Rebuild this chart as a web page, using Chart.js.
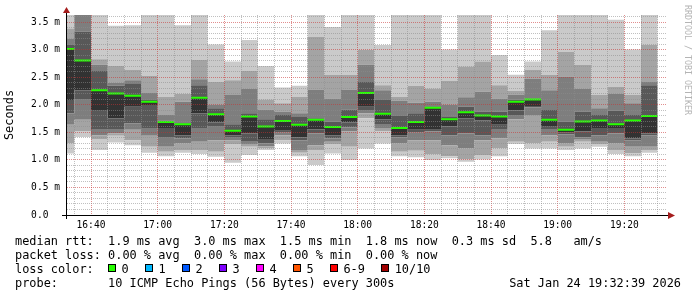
<!DOCTYPE html>
<html>
<head>
<meta charset="utf-8">
<script src="https://cdn.jsdelivr.net/npm/chart.js@4.4.1/dist/chart.umd.min.js"></script>
<style>
  html, body { margin: 0; padding: 0; background: #fff; }
  #wrap { position: relative; width: 697px; height: 297px; overflow: hidden; }
  #chart { position: absolute; left: 0; top: 0; }
  .txt { position: absolute; font-family: 'DejaVu Sans Mono', monospace; font-size: 11.9px; line-height: 13.9px; white-space: pre; color: #000; }
  #watermark { position: absolute; left: 683px; top: 5px; writing-mode: vertical-rl; font-family: 'DejaVu Sans Mono', monospace; font-size: 8.3px; line-height: 10px; color: #b4b4b4; white-space: pre; }
  .sw { display: inline-block; width: 6px; height: 6px; border: 1px solid #000; margin-right: 5.5px; vertical-align: 1px; }
  .lab { margin-right: 16.3px; }
</style>
</head>
<body>
<div id="wrap">
  <canvas id="chart" width="697" height="297"></canvas>
  <div id="watermark">RRDTOOL / TOBI OETIKER</div>
  <div class="txt" style="left:15px;top:235px">median rtt:  1.9 ms avg  3.0 ms max  1.5 ms min  1.8 ms now  0.3 ms sd  5.8   am/s</div>
  <div class="txt" style="left:15px;top:248.9px">packet loss: 0.00 % avg  0.00 % max  0.00 % min  0.00 % now</div>
  <div class="txt" id="loss-row" style="left:15px;top:262.8px">loss color:  </div>
  <div class="txt" style="left:15px;top:276.7px">probe:       10 ICMP Echo Pings (56 Bytes) every 300s</div>
  <div class="txt" style="right:16px;top:276.7px">Sat Jan 24 19:32:39 2026</div>
</div>
<script>
// start of each 5 minute slot
const slots = ['16:30', '16:35', '16:40', '16:45', '16:50', '16:55',
  '17:00', '17:05', '17:10', '17:15', '17:20', '17:25', '17:30', '17:35', '17:40', '17:45', '17:50', '17:55',
  '18:00', '18:05', '18:10', '18:15', '18:20', '18:25', '18:30', '18:35', '18:40', '18:45', '18:50', '18:55',
  '19:00', '19:05', '19:10', '19:15', '19:20', '19:25'];
const slotLength = 5;
const viewStart = '16:32:30';
const viewEnd = '19:32:48';

// the 10 pings of each slot, sorted (ms)
const ping1 = [1.12, 1.42, 1.18, 1.32, 1.27, 1.13, 1.07, 1.13, 1.11, 1.06, 0.95, 1.09, 1.18, 1.30, 1.07, 0.91, 1.12, 1.00, 1.21, 1.30, 1.07, 1.05, 1.00, 1.03, 0.97, 1.01, 1.07, 1.29, 1.21, 1.21, 1.18, 1.21, 1.24, 1.11, 1.07, 1.13];
const ping2 = [1.30, 1.52, 1.38, 1.44, 1.36, 1.24, 1.15, 1.18, 1.18, 1.15, 1.29, 1.24, 1.21, 1.36, 1.13, 1.18, 1.29, 1.24, 1.76, 1.52, 1.15, 1.17, 1.11, 1.07, 1.01, 1.09, 1.21, 1.33, 1.30, 1.33, 1.24, 1.33, 1.29, 1.18, 1.12, 1.18];
const ping3 = [1.64, 1.73, 1.45, 1.48, 1.55, 1.44, 1.24, 1.30, 1.33, 1.36, 1.36, 1.29, 1.25, 1.45, 1.18, 1.27, 1.33, 1.52, 1.85, 1.58, 1.30, 1.36, 1.36, 1.27, 1.21, 1.36, 1.39, 1.74, 1.82, 1.45, 1.30, 1.38, 1.33, 1.30, 1.24, 1.24];
const ping4 = [1.85, 2.11, 1.55, 1.55, 1.67, 1.58, 1.42, 1.39, 1.58, 1.62, 1.42, 1.33, 1.30, 1.50, 1.36, 1.48, 1.39, 1.59, 1.91, 1.64, 1.41, 1.50, 1.52, 1.45, 1.48, 1.45, 1.55, 1.82, 1.96, 1.55, 1.47, 1.41, 1.45, 1.48, 1.36, 1.45];
const ping5 = [2.09, 2.27, 1.91, 1.76, 1.97, 2.00, 1.58, 1.45, 1.85, 1.68, 1.45, 1.48, 1.38, 1.53, 1.41, 1.56, 1.45, 1.68, 1.97, 1.74, 1.45, 1.55, 1.55, 1.61, 1.76, 1.72, 1.64, 1.90, 1.98, 1.62, 1.50, 1.52, 1.58, 1.58, 1.39, 1.48];
const ping6 = [3.03, 2.82, 2.27, 2.21, 2.17, 2.06, 1.69, 1.65, 2.13, 1.83, 1.53, 1.79, 1.61, 1.71, 1.64, 1.73, 1.60, 1.78, 2.22, 1.84, 1.58, 1.69, 1.95, 1.74, 1.87, 1.81, 1.79, 2.06, 2.10, 1.73, 1.55, 1.71, 1.72, 1.66, 1.72, 1.80];
const ping7 = [3.09, 3.33, 2.62, 2.35, 2.38, 2.09, 1.72, 1.67, 2.36, 1.94, 1.65, 1.85, 1.74, 1.82, 1.78, 1.76, 1.70, 1.92, 2.42, 2.09, 1.80, 1.85, 1.96, 1.78, 1.97, 1.88, 1.88, 2.10, 2.12, 1.91, 1.70, 1.88, 1.82, 1.90, 1.82, 2.36];
const ping8 = [3.20, 3.70, 2.73, 2.41, 2.45, 2.22, 1.82, 2.06, 2.47, 2.00, 2.18, 2.30, 1.92, 1.88, 1.85, 2.28, 2.12, 2.28, 2.73, 2.27, 2.08, 2.04, 2.06, 2.00, 2.14, 2.24, 2.12, 2.19, 2.48, 2.27, 2.52, 2.30, 1.94, 2.21, 2.03, 2.42];
const ping9 = [3.39, 3.80, 2.83, 2.71, 2.64, 2.53, 2.15, 2.20, 2.82, 2.42, 2.45, 2.62, 2.10, 2.03, 2.15, 3.24, 2.55, 2.55, 3.00, 2.36, 2.15, 2.35, 2.30, 2.44, 2.70, 2.79, 2.36, 2.26, 2.64, 2.55, 2.97, 2.73, 2.18, 2.33, 2.18, 3.09];
const ping10 = [3.70, 3.90, 3.80, 3.44, 3.45, 3.80, 3.80, 3.45, 3.80, 3.10, 2.79, 3.18, 2.71, 2.32, 2.35, 3.80, 3.42, 3.80, 3.80, 3.09, 3.80, 3.80, 3.80, 3.01, 3.80, 3.80, 2.91, 2.55, 2.79, 3.36, 3.80, 3.80, 3.80, 3.55, 3.01, 3.80];
const medianRtt = [3.02, 2.81, 2.27, 2.21, 2.17, 2.06, 1.69, 1.65, 2.13, 1.83, 1.53, 1.79, 1.61, 1.71, 1.64, 1.73, 1.60, 1.78, 2.22, 1.84, 1.58, 1.69, 1.95, 1.74, 1.87, 1.81, 1.79, 2.06, 2.10, 1.73, 1.55, 1.70, 1.72, 1.65, 1.72, 1.80];

const timeTicks = ['16:40', '17:00', '17:20', '17:40', '18:00', '18:20', '18:40', '19:00', '19:20'];
const yTickValues = [0, 0.5, 1.0, 1.5, 2.0, 2.5, 3.0, 3.5];
const yTickLabels = ['0.0', '0.5 m', '1.0 m', '1.5 m', '2.0 m', '2.5 m', '3.0 m', '3.5 m'];
const yMax = 3.636;

const lossNames = ['0', '1', '2', '3', '4', '5', '6-9', '10/10'];
const lossColors = ['#26ff00', '#00b8ff', '#0059ff', '#7e00ff', '#ff00ff', '#ff5500', '#ff0000', '#a10000'];

// smoke shades, outer bands light, middle band dark
const bandColors = ['#cacaca', '#a4a4a4', '#7e7e7e', '#585858', '#323232', '#585858', '#7e7e7e', '#a4a4a4', '#cacaca'];

function toMin(t) {
    const p = t.split(':').map(Number);
    return p[0] * 60 + p[1] + (p[2] || 0) / 60;
}

// loss colour legend
const lossRow = document.getElementById('loss-row');
lossNames.forEach((name, i) => {
    const sw = document.createElement('span');
    sw.className = 'sw';
    sw.style.background = lossColors[i];
    const lab = document.createElement('span');
    lab.className = 'lab';
    lab.textContent = name;
    lossRow.appendChild(sw);
    lossRow.appendChild(lab);
});

// each value holds from its slot start to the next slot start
const lastEnd = toMin(slots[slots.length - 1]) + slotLength;
function toPoints(vals) {
    const pts = slots.map((t, i) => ({ x: toMin(t), y: vals[i] }));
    pts.push({ x: lastEnd, y: vals[vals.length - 1] });
    return pts;
}

const pings = [ping1, ping2, ping3, ping4, ping5, ping6, ping7, ping8, ping9, ping10];
const datasets = pings.map((vals, i) => ({
    data: toPoints(vals),
    stepped: 'before',
    borderWidth: 0,
    pointRadius: 0,
    order: 1,
    backgroundColor: i ? bandColors[i - 1] : 'transparent',
    fill: i ? '-1' : false
}));

// median drawn as a thin bar, about 2px high, on top of the smoke
const medHalf = 1 / 55;
datasets.push({
    data: toPoints(medianRtt.map(v => v - medHalf)),
    stepped: 'before', borderWidth: 0, pointRadius: 0, fill: false, order: 0
});
datasets.push({
    data: toPoints(medianRtt.map(v => v + medHalf)),
    stepped: 'before', borderWidth: 0, pointRadius: 0, fill: '-1', order: 0,
    backgroundColor: lossColors[0]
});

const minorGrid = 'rgba(140,140,140,0.55)';
const majorGrid = 'rgba(200,50,50,0.55)';
const tickFont = { family: 'DejaVu Sans Mono', size: 9.6 };

// axis stubs and red arrows like rrdtool
const axisArrows = {
    id: 'axisArrows',
    afterDraw(chart) {
        const { ctx, chartArea: a } = chart;
        const ax = a.left + 0.5;
        const ay = a.bottom + 0.5;
        ctx.save();
        ctx.strokeStyle = '#000';
        ctx.lineWidth = 1;
        ctx.beginPath();
        ctx.moveTo(a.left - 4, ay); ctx.lineTo(a.right + 3, ay);
        ctx.moveTo(ax, a.bottom + 4); ctx.lineTo(ax, a.top - 3);
        ctx.stroke();
        ctx.fillStyle = '#a51d1d';
        ctx.beginPath();
        ctx.moveTo(a.right + 1, ay - 3.5);
        ctx.lineTo(a.right + 8, ay);
        ctx.lineTo(a.right + 1, ay + 3.5);
        ctx.closePath();
        ctx.fill();
        ctx.beginPath();
        ctx.moveTo(ax - 3.5, a.top - 2);
        ctx.lineTo(ax, a.top - 8);
        ctx.lineTo(ax + 3.5, a.top - 2);
        ctx.closePath();
        ctx.fill();
        ctx.restore();
    }
};

new Chart(document.getElementById('chart'), {
    type: 'line',
    data: { datasets },
    options: {
        responsive: false,
        animation: false,
        devicePixelRatio: 1,
        layout: { padding: { top: 15, right: 30, left: 0, bottom: 0 } },
        plugins: { legend: { display: false }, tooltip: { enabled: false } },
        scales: {
            x: {
                type: 'linear',
                min: toMin(viewStart),
                max: toMin(viewEnd),
                afterFit: s => { s.height = 82; },
                ticks: {
                    stepSize: 5,
                    autoSkip: false,
                    maxRotation: 0,
                    includeBounds: false,
                    padding: 5,
                    color: '#000',
                    font: tickFont,
                    callback: v => {
                        const t = timeTicks.find(s => Math.abs(toMin(s) - v) < 0.01);
                        return t || '';
                    }
                },
                grid: {
                    z: 1,
                    drawTicks: false,
                    lineWidth: 1,
                    color: c => (Math.round(c.tick.value) % 20 === 0 ? majorGrid : minorGrid)
                },
                border: { display: true, color: '#000', width: 1, dash: [1, 1], z: 2 }
            },
            y: {
                min: 0,
                max: yMax,
                afterFit: s => { s.width = 66; },
                title: {
                    display: true,
                    text: 'Seconds',
                    color: '#000',
                    font: { family: 'DejaVu Sans Mono', size: 11.9 },
                    padding: { top: 3, bottom: 0 }
                },
                ticks: {
                    stepSize: 0.1,
                    autoSkip: false,
                    includeBounds: false,
                    padding: 6,
                    color: '#000',
                    font: tickFont,
                    callback: v => {
                        const i = yTickValues.findIndex(t => Math.abs(t - v) < 1e-6);
                        return i >= 0 ? yTickLabels[i].padEnd(5, ' ') : '';
                    }
                },
                grid: {
                    z: 1,
                    drawTicks: false,
                    lineWidth: 1,
                    color: c => (Math.round(c.tick.value * 10) % 5 === 0 ? majorGrid : minorGrid)
                },
                border: { display: true, color: '#000', width: 1, dash: [1, 1], z: 2 }
            }
        }
    },
    plugins: [axisArrows]
});
</script>
</body>
</html>
